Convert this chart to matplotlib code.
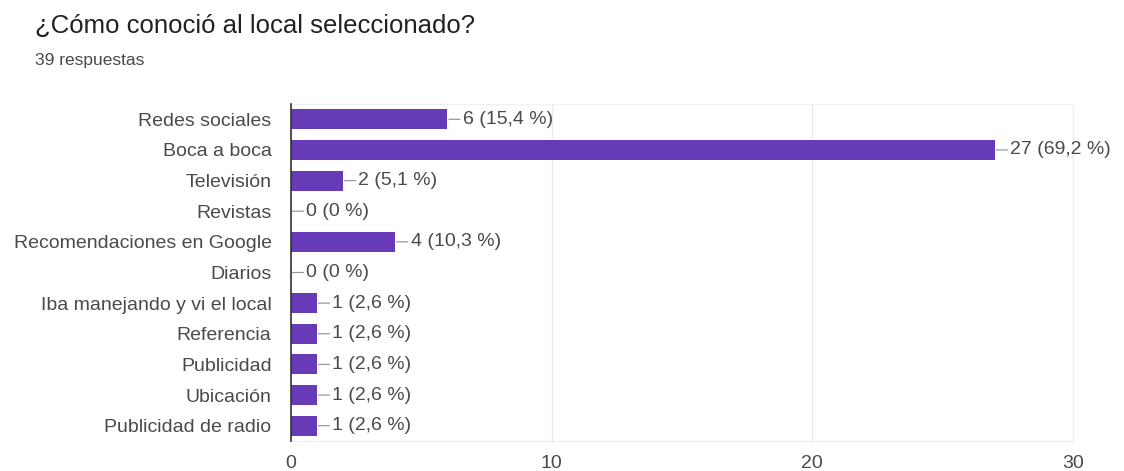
import matplotlib
matplotlib.use("Agg")
import matplotlib.pyplot as plt

title = "¿Cómo conoció al local seleccionado?"
subtitle = "39 respuestas"
categories = ["Redes sociales", "Boca a boca", "Televisión", "Revistas",
              "Recomendaciones en Google", "Diarios", "Iba manejando y vi el local",
              "Referencia", "Publicidad", "Ubicación", "Publicidad de radio"]
counts = [6, 27, 2, 0, 4, 0, 1, 1, 1, 1, 1]
labels = ["6 (15,4 %)", "27 (69,2 %)", "2 (5,1 %)", "0 (0 %)", "4 (10,3 %)", "0 (0 %)",
          "1 (2,6 %)", "1 (2,6 %)", "1 (2,6 %)", "1 (2,6 %)", "1 (2,6 %)"]
xticks = [0, 10, 20, 30]

plt.rcParams['font.family'] = ['Liberation Sans', 'DejaVu Sans']

W, H = 1124, 471
fig = plt.figure(figsize=(W / 100, H / 100), dpi=100)
ax = fig.add_axes([291 / W, 1 - 441 / H, (1073 - 291) / W, (441 - 104) / H])

ypos = list(range(len(categories)))
ax.barh(ypos, counts, height=0.65, color="#673ab7", zorder=3)
ax.set_xlim(0, 30)
ax.set_ylim(len(categories) - 0.5, -0.5)
ax.set_yticks(ypos)
ax.set_yticklabels(categories, fontsize=14, color="#4a4a4a")
ax.set_xticks(xticks)
ax.set_xticklabels([str(t) for t in xticks], fontsize=14, color="#4a4a4a")
ax.tick_params(axis="y", length=0, pad=14)
ax.tick_params(axis="x", length=0, pad=10)
ax.grid(axis="x", color="#ebebeb", linewidth=1, zorder=0)
for s in ["top", "right", "bottom"]:
    ax.spines[s].set_color("#f0f0f0")
    ax.spines[s].set_linewidth(1)
ax.spines["left"].set_color("#333333")
ax.spines["left"].set_linewidth(1.2)
ax.spines["left"].set_zorder(4)

for y, c, lab in zip(ypos, counts, labels):
    ax.annotate(lab, xy=(c, y), xytext=(11, 0), textcoords="offset points",
                ha="left", va="center", fontsize=14, color="#4a4a4a",
                arrowprops=dict(arrowstyle="-", color="#999999", lw=0.9,
                                shrinkA=0, shrinkB=1))

fig.text(35 / W, 1 - 33 / H, title, fontsize=18.5, color="#202124", va="baseline", ha="left")
fig.text(35 / W, 1 - 60 / H, subtitle, fontsize=12.5, color="#4a4a4a", va="center", ha="left")

fig.savefig("out.png", dpi=100, facecolor="white")
